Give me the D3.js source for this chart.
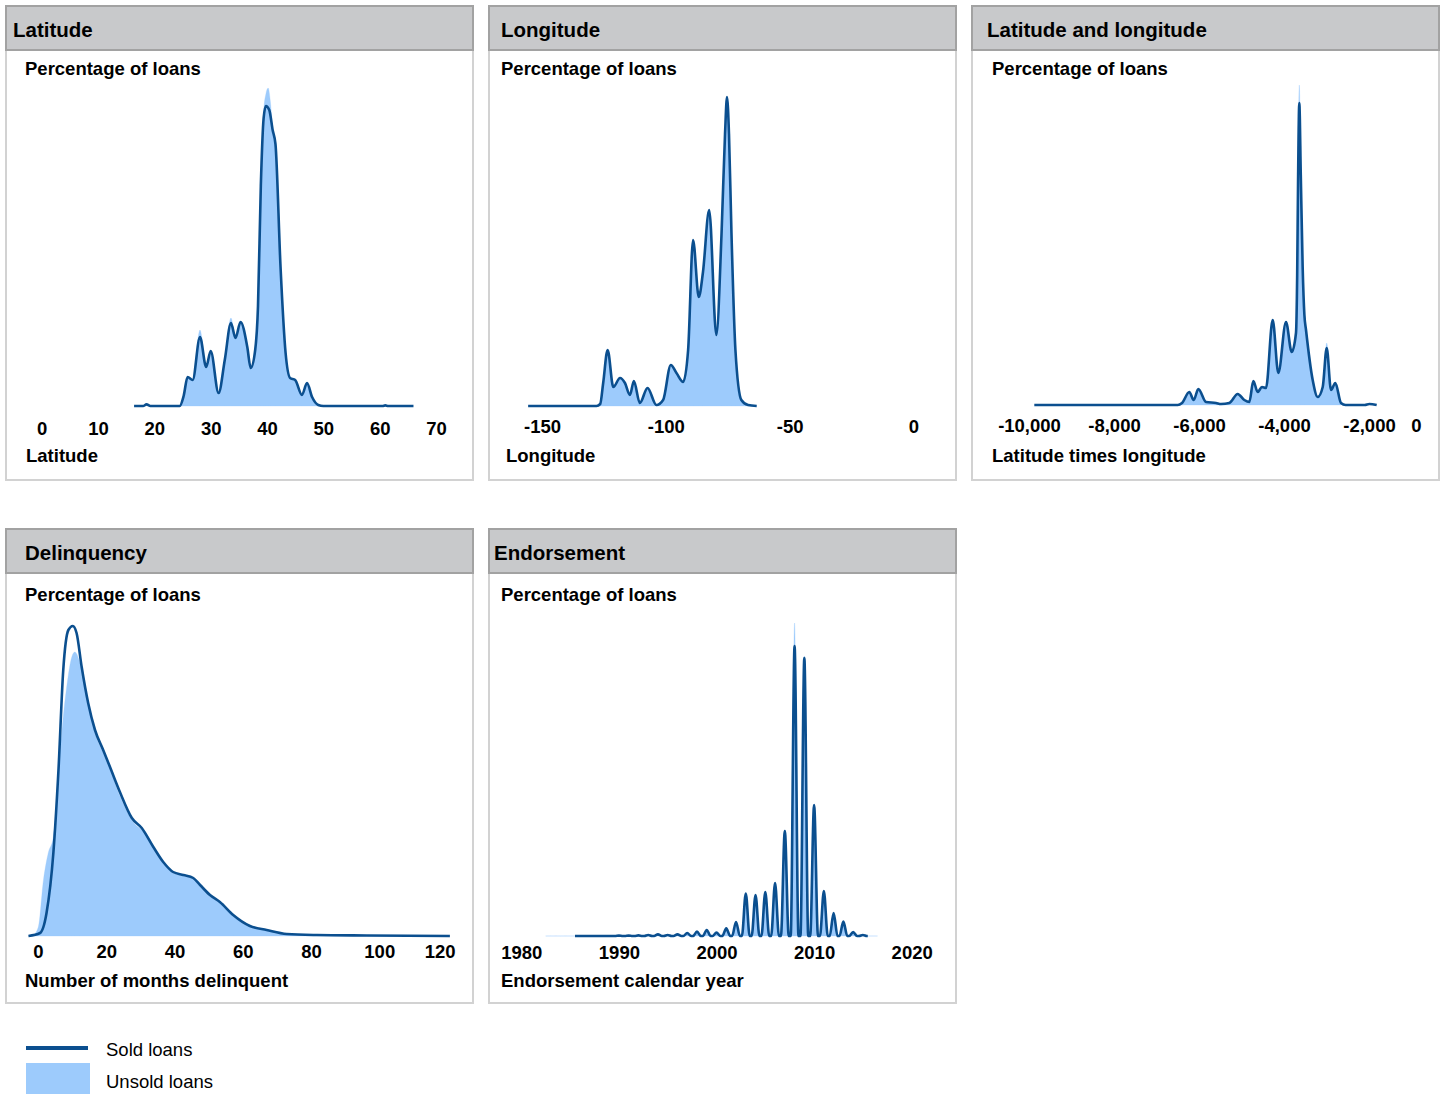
<!DOCTYPE html>
<html>

<head>
  <meta charset="utf-8">
  <script src="https://d3js.org/d3.v7.min.js"></script>

  <style>
    body { margin: 0; background: #fff; }
    text { font-family: "Liberation Sans", Arial, Helvetica, sans-serif; fill: #000; }
  </style>
</head>

<body>

  <div id="svgcontainer"></div>

  <script>

    /* ---- data (values in % of loans) ---- */

    var panelTitles = ["Latitude", "Longitude", "Latitude and longitude", "Delinquency", "Endorsement"];
    var axisTitles = ["Latitude", "Longitude", "Latitude times longitude", "Number of months delinquent", "Endorsement calendar year"];
    var yTitle = "Percentage of loans";
    var legendLabels = ["Sold loans", "Unsold loans"];

    var latitudeTicks = [0, 10, 20, 30, 40, 50, 60, 70];
    var longitudeTicks = [-150, -100, -50, 0];
    var latLonTicks = [-10000, -8000, -6000, -4000, -2000, 0];
    var delinquencyTicks = [0, 20, 40, 60, 80, 100, 120];
    var endorsementTicks = [1980, 1990, 2000, 2010, 2020];

    var latitudeSold = [[16.4, 0], [18, 0], [18.6, 0.08], [19.3, 0], [24.5, 0], [25.2, 0.5], [25.9, 1.45], [26.8, 1.3],
      [28.1, 3.45], [29.2, 1.95], [30.0, 2.75], [31.4, 0.65], [32.5, 2.3], [33.6, 4.15], [34.4, 3.4], [35.3, 4.2],
      [36.5, 2.95], [37.1, 1.9], [37.9, 2.8], [38.4, 5], [38.9, 11], [39.4, 14.4], [39.8, 15.0], [40.4, 14.8],
      [41.0, 13.8], [41.5, 13.1], [42.4, 6.95], [43.3, 2.65], [44.1, 1.4], [45.0, 1.3], [46.2, 0.55], [47.1, 1.15],
      [48.0, 0.45], [49.1, 0.05], [50, 0], [60.5, 0], [61, 0.03], [61.5, 0], [66, 0]];
    var latitudeUnsold = [[24.5, 0], [25.2, 0.5], [25.9, 1.45], [26.8, 1.3], [28.1, 3.8], [29.2, 1.95], [30.0, 2.75],
      [31.4, 0.65], [32.5, 2.3], [33.6, 4.4], [34.4, 3.4], [35.3, 4.2], [36.5, 2.95], [37.1, 1.9], [37.9, 2.8],
      [38.4, 5], [38.9, 11], [39.4, 14.7], [39.8, 15.6], [40.2, 15.9], [40.6, 15.2], [41.0, 13.9], [41.5, 13.1],
      [42.4, 6.95], [43.3, 2.65], [44.1, 1.4], [45.0, 1.3], [46.2, 0.55], [47.1, 1.15], [48.0, 0.45], [49.1, 0.05], [50, 0]];

    var longitudeSold = [[-155.6, 0], [-128, 0], [-126.5, 0.1], [-125.3, 1.15], [-123.5, 2.8], [-121.2, 0.95],
      [-118.5, 1.4], [-116.5, 1.15], [-114.5, 0.55], [-112.9, 1.25], [-110.5, 0.15], [-107.4, 0.9], [-103.8, 0.05],
      [-101.1, 0.3], [-98.0, 2.05], [-95.7, 1.65], [-93.0, 1.2], [-91.0, 2.8], [-89.0, 8.3], [-86.7, 5.45],
      [-85.0, 6.7], [-82.5, 9.8], [-79.6, 3.55], [-77.5, 8.65], [-76.1, 13.6], [-75.3, 15.45], [-74.5, 13.6],
      [-73.5, 8.65], [-71.9, 2.8], [-69.5, 0.3], [-66.8, 0.05], [-63.3, 0]];
    var longitudeUnsold = [[-128, 0], [-126.5, 0.1], [-125.3, 1.15], [-123.5, 2.8], [-121.2, 0.95], [-118.5, 1.4],
      [-116.5, 1.15], [-114.5, 0.55], [-112.9, 1.25], [-110.5, 0.15], [-107.4, 0.9], [-103.8, 0.05], [-101.1, 0.3],
      [-98.0, 2.05], [-95.7, 1.65], [-93.0, 1.2], [-91.0, 2.8], [-89.0, 8.3], [-86.7, 5.45], [-85.0, 6.7],
      [-82.5, 9.8], [-79.6, 3.55], [-77.5, 8.65], [-76.1, 13.6], [-75.3, 15.45], [-74.5, 13.6], [-73.5, 8.65],
      [-71.9, 2.8], [-69.5, 0.3], [-66.8, 0.05], [-65, 0]];

    var latLonSold = [[-9875, 0], [-6500, 0], [-6400, 0.1], [-6228, 0.65], [-6125, 0.25], [-6016, 0.8], [-5835, 0.15],
      [-5600, 0.1], [-5482, 0.05], [-5287, 0.1], [-5090, 0.55], [-4934, 0.25], [-4816, 0.15], [-4722, 1.2],
      [-4619, 0.65], [-4518, 0.9], [-4424, 0.85], [-4266, 4.25], [-4134, 1.6], [-3953, 4.15], [-3819, 2.65],
      [-3718, 3.6], [-3690, 6.5], [-3670, 11], [-3640, 15.1], [-3605, 11.5], [-3561, 6.9], [-3520, 4.5],
      [-3482, 3.75], [-3325, 1.25], [-3207, 0.4], [-3089, 0.9], [-2995, 2.85], [-2894, 0.75], [-2792, 1.1],
      [-2659, 0.1], [-2550, 0], [-2100, 0], [-1992, 0.05], [-1819, 0]];
    var latLonUnsold = [[-6500, 0], [-6400, 0.1], [-6228, 0.65], [-6125, 0.25], [-6016, 0.8], [-5835, 0.15],
      [-5600, 0.1], [-5482, 0.05], [-5287, 0.1], [-5090, 0.55], [-4934, 0.25], [-4816, 0.15], [-4722, 1.2],
      [-4619, 0.65], [-4518, 0.9], [-4424, 0.85], [-4266, 4.3], [-4134, 1.6], [-3953, 4.2], [-3819, 2.65],
      [-3718, 3.6], [-3690, 6.5], [-3670, 11.5], [-3640, 16.0], [-3605, 11.8], [-3561, 6.9], [-3520, 4.5],
      [-3482, 3.75], [-3325, 1.25], [-3207, 0.4], [-3089, 0.9], [-2995, 3.1], [-2894, 0.75], [-2792, 1.1],
      [-2659, 0.1], [-2550, 0]];

    var delinquencySold = [[-2.8, 0], [0.6, 0.15], [2.5, 1.15], [4.5, 4.15], [6.0, 8.3], [7.4, 13.3], [8.9, 15.3],
      [10.2, 15.5], [11.3, 15.15], [12.8, 13.45], [14.7, 11.65], [16.7, 10.3], [19.1, 9.3], [21.1, 8.45],
      [24.0, 7.2], [27.5, 5.9], [30.4, 5.4], [33.8, 4.45], [36.7, 3.7], [39.6, 3.2], [42.6, 3.05], [45.5, 2.9],
      [47.5, 2.55], [50.4, 2.05], [53.3, 1.7], [57.2, 1.05], [62.1, 0.5], [67.0, 0.3], [72.9, 0.1], [81.7, 0.05],
      [96.3, 0.025], [120.7, 0]];
    var delinquencyUnsold = [[-1.6, 0], [0.1, 0.45], [1.6, 2.8], [3.0, 4.15], [4.5, 4.95], [6.4, 9.15], [8.4, 12.45],
      [9.9, 13.95], [10.8, 14.2], [12.3, 13.65], [14.3, 11.95], [17.2, 9.9], [20.1, 8.85], [24.0, 7.0],
      [27.9, 5.7], [31.8, 5.1], [36.7, 3.65], [39.6, 3.15], [42.6, 3.0], [45.5, 2.85], [47.5, 2.5], [50.4, 2.0],
      [53.3, 1.65], [57.2, 1.0], [62.1, 0.5], [67.0, 0.3], [72.9, 0.1], [81.7, 0.05], [96.3, 0.02], [120, 0]];

    // endorsement: one spike per calendar year
    var endorsementYearsSold = [1986, 1987, 1988, 1989, 1990, 1991, 1992, 1993, 1994, 1995, 1996, 1997, 1998, 1999, 2000,
      2001, 2002, 2003, 2004, 2005, 2006, 2007, 2008, 2009, 2010, 2011, 2012, 2013, 2014, 2015];
    var endorsementSold = [0, 0, 0, 0, 0.02, 0.02, 0.03, 0.05, 0.08, 0.05, 0.08, 0.15, 0.22, 0.3, 0.17,
      0.38, 0.7, 2.12, 2.05, 2.2, 2.65, 5.25, 14.5, 13.9, 6.55, 2.25, 1.15, 0.72, 0.2, 0.05];
    var endorsementYearsUnsold = [1983, 1984, 1985, 1986, 1987, 1988, 1989, 1990, 1991, 1992, 1993, 1994, 1995, 1996,
      1997, 1998, 1999, 2000, 2001, 2002, 2003, 2004, 2005, 2006, 2007, 2008, 2009, 2010, 2011, 2012, 2013, 2014,
      2015, 2016];
    var endorsementUnsold = [0, 0, 0, 0, 0, 0, 0, 0.02, 0.02, 0.03, 0.05, 0.08, 0.05, 0.08,
      0.15, 0.22, 0.3, 0.17, 0.38, 0.7, 2.12, 2.05, 2.2, 2.65, 5.3, 15.65, 14.0, 6.6, 2.25, 1.15, 0.72, 0.2,
      0.05, 0];


    /* ---- layout ---- */

    var lineColor = "#0b4f8f";
    var fillColor = "#9dcbfc";
    var pxPerUnit = 20; // vertical pixels per percentage point

    var svg = d3.select("#svgcontainer")
      .append("svg")
      .attr("width", 1444)
      .attr("height", 1094);

    // plain hyphen for negatives
    var locale = d3.formatLocale({ decimal: ".", thousands: ",", grouping: [3], currency: ["$", ""], minus: "-" });

    // turn yearly counts into spike points with flat valleys between years
    function spikes(years, vals) {
      var pts = [[years[0] - 0.5, 0]];
      years.forEach(function (yr, i) {
        pts.push([yr - 0.4, 0], [yr, vals[i]], [yr + 0.4, 0], [yr + 0.5, 0]);
      });
      return pts;
    }

    var panels = [
      { x: 6, y: 6, titleDx: 7, subDx: 19, axisDx: 20, titleY: 37, subY: 75, axisTitleY: 462, tickY: 435,
        base: 406, domain: [0, 70], range: [41.7, 436], ticks: latitudeTicks, sold: latitudeSold, unsold: latitudeUnsold },
      { x: 489, y: 6, titleDx: 12, subDx: 12, axisDx: 17, titleY: 37, subY: 75, axisTitleY: 462, tickY: 433,
        base: 406, domain: [-150, 0], range: [542, 913.5], ticks: longitudeTicks, sold: longitudeSold, unsold: longitudeUnsold },
      { x: 972, y: 6, titleDx: 15, subDx: 20, axisDx: 20, titleY: 37, subY: 75, axisTitleY: 462, tickY: 432,
        base: 405, domain: [-10000, -2000], range: [1029, 1369], ticks: latLonTicks, sold: latLonSold, unsold: latLonUnsold },
      { x: 6, y: 529, titleDx: 19, subDx: 19, axisDx: 19, titleY: 560, subY: 601, axisTitleY: 987, tickY: 958,
        base: 936, domain: [0, 80], range: [38, 311], ticks: delinquencyTicks, sold: delinquencySold, unsold: delinquencyUnsold },
      { x: 489, y: 529, titleDx: 5, subDx: 12, axisDx: 12, titleY: 560, subY: 601, axisTitleY: 987, tickY: 959,
        base: 936, domain: [1980, 2020], range: [521.3, 911.7], ticks: endorsementTicks,
        sold: spikes(endorsementYearsSold, endorsementSold), unsold: spikes(endorsementYearsUnsold, endorsementUnsold) }
    ];

    var panelW = 467, panelH = 474, headerH = 44;


    function drawPanel(p, i) {
      var g = svg.append("g");

      // frame
      g.append("rect")
        .attr("x", p.x).attr("y", p.y)
        .attr("width", panelW).attr("height", panelH)
        .attr("fill", "#fff")
        .attr("stroke", "#d2d2d2")
        .attr("stroke-width", 2);

      // header
      g.append("rect")
        .attr("x", p.x).attr("y", p.y)
        .attr("width", panelW).attr("height", headerH)
        .attr("fill", "#c8c9cb")
        .attr("stroke", "#a2a2a2")
        .attr("stroke-width", 2);

      g.append("text")
        .attr("x", p.x + p.titleDx).attr("y", p.titleY)
        .style("font-size", "20.5px").style("font-weight", "bold")
        .text(panelTitles[i]);

      g.append("text")
        .attr("x", p.x + p.subDx).attr("y", p.subY)
        .style("font-size", "18.5px").style("font-weight", "bold")
        .text(yTitle);

      g.append("text")
        .attr("x", p.x + p.axisDx).attr("y", p.axisTitleY)
        .style("font-size", "18.5px").style("font-weight", "bold")
        .text(axisTitles[i]);

      var x = d3.scaleLinear().domain(p.domain).range(p.range);
      var y = d3.scaleLinear().domain([0, 1]).range([p.base, p.base - pxPerUnit]);

      // unsold loans: filled area
      var area = d3.area()
        .x(function (d) { return x(d[0]); })
        .y0(p.base)
        .y1(function (d) { return y(d[1]); })
        .curve(d3.curveMonotoneX);

      g.append("path")
        .datum(p.unsold)
        .attr("d", area)
        .attr("fill", fillColor)
        .attr("stroke", fillColor)
        .attr("stroke-opacity", 0.3)
        .attr("stroke-width", 1);

      // sold loans: line
      var line = d3.line()
        .x(function (d) { return x(d[0]); })
        .y(function (d) { return y(d[1]); })
        .curve(d3.curveMonotoneX);

      g.append("path")
        .datum(p.sold)
        .attr("d", line)
        .attr("fill", "none")
        .attr("stroke", lineColor)
        .attr("stroke-width", 2.6)
        .attr("stroke-linejoin", "round");

      // x axis: labels only
      var fmt = i == 4 ? locale.format("d") : locale.format(",");

      var ax = g.append("g")
        .attr("transform", "translate(0," + p.tickY + ")")
        .call(d3.axisBottom(x).tickValues(p.ticks).tickSize(0).tickFormat(fmt));
      ax.select(".domain").remove();
      ax.selectAll("text")
        .attr("y", 0).attr("dy", null)
        .style("font-size", "18.5px").style("font-weight", "bold")
        .style("font-family", "'Liberation Sans', Arial, Helvetica, sans-serif")
        .attr("fill", "#000");

      // keep labels inside the panel
      var limit = p.x + panelW - 18;
      ax.selectAll(".tick text").each(function (d) {
        var bb = this.getBBox();
        var over = x(d) + bb.x + bb.width - limit;
        if (over > 0) d3.select(this).attr("x", -over);
      });
    }

    panels.forEach(drawPanel);


    /* legend */
    svg.append("line")
      .attr("x1", 26).attr("x2", 88)
      .attr("y1", 1048).attr("y2", 1048)
      .attr("stroke", lineColor)
      .attr("stroke-width", 4);

    svg.append("rect")
      .attr("x", 26).attr("y", 1063)
      .attr("width", 64).attr("height", 34)
      .attr("fill", fillColor);

    svg.selectAll(".legendText")
      .data(legendLabels)
      .enter()
      .append("text")
      .attr("class", "legendText")
      .attr("x", 106)
      .attr("y", function (d, i) { return i == 0 ? 1056 : 1088; })
      .style("font-size", "18.5px")
      .text(function (d) { return d; });

  </script>
</body>

</html>
